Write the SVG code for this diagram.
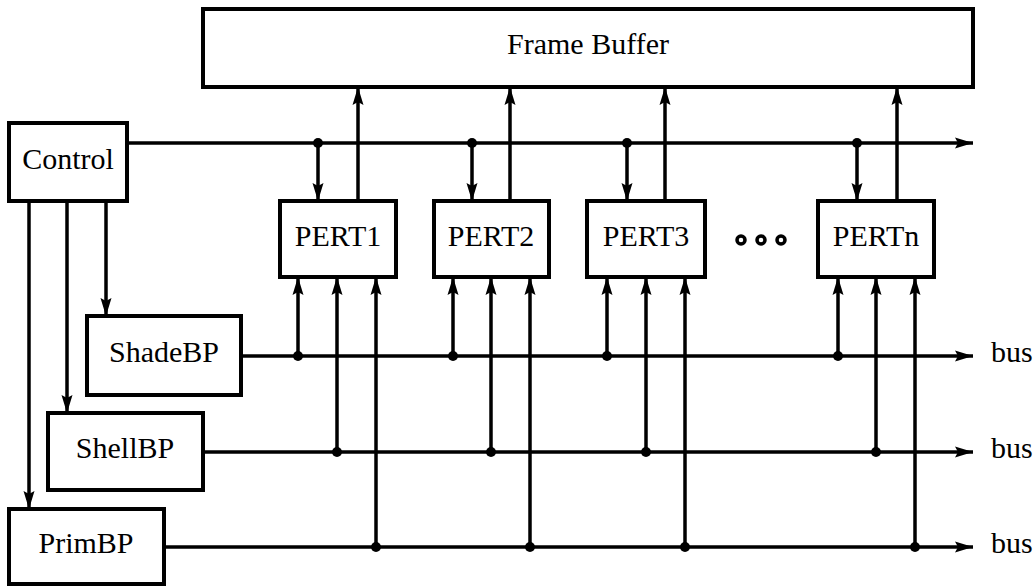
<svg xmlns="http://www.w3.org/2000/svg" width="1036" height="586" viewBox="0 0 1036 586">
<style>
.box{fill:#fff;stroke:#000;stroke-width:4}
.t{font-family:"Liberation Serif","DejaVu Serif",serif;font-size:30px;fill:#000;text-anchor:middle}
.a{fill:none;stroke:#000;stroke-width:3.5;marker-end:url(#ah)}
.d{fill:#000}
.e{fill:#fff;stroke:#000;stroke-width:3.5}
</style>
<defs>
<marker id="ah" markerUnits="userSpaceOnUse" markerWidth="20" markerHeight="14" refX="18" refY="7" orient="auto">
<path d="M0,1.5 L18,7 L0,12.5 L3,7 z" fill="#000"/>
</marker>
</defs>
<g id="connectors">
<path class="a" d="M127,143 H973"/>
<path class="a" d="M318,143 V201"/>
<path class="a" d="M472,143 V201"/>
<path class="a" d="M627,143 V201"/>
<path class="a" d="M857,143 V201"/>
<circle class="d" cx="318" cy="143" r="5"/>
<circle class="d" cx="472" cy="143" r="5"/>
<circle class="d" cx="627" cy="143" r="5"/>
<circle class="d" cx="857" cy="143" r="5"/>
<path class="a" d="M358,201 V87"/>
<path class="a" d="M510,201 V87"/>
<path class="a" d="M665,201 V87"/>
<path class="a" d="M897,201 V87"/>
<path class="a" d="M106,201 V316"/>
<path class="a" d="M67,201 V413"/>
<path class="a" d="M29,201 V509"/>
<path class="a" d="M241,356 H973"/>
<path class="a" d="M203,452 H973"/>
<path class="a" d="M164,547 H973"/>
<path class="a" d="M298,356 V277"/>
<path class="a" d="M453,356 V277"/>
<path class="a" d="M607,356 V277"/>
<path class="a" d="M838,356 V277"/>
<circle class="d" cx="298" cy="356" r="5"/>
<circle class="d" cx="453" cy="356" r="5"/>
<circle class="d" cx="607" cy="356" r="5"/>
<circle class="d" cx="838" cy="356" r="5"/>
<path class="a" d="M337,452 V277"/>
<path class="a" d="M491,452 V277"/>
<path class="a" d="M646,452 V277"/>
<path class="a" d="M876,452 V277"/>
<circle class="d" cx="337" cy="452" r="5"/>
<circle class="d" cx="491" cy="452" r="5"/>
<circle class="d" cx="646" cy="452" r="5"/>
<circle class="d" cx="876" cy="452" r="5"/>
<path class="a" d="M376,547 V277"/>
<path class="a" d="M530,547 V277"/>
<path class="a" d="M685,547 V277"/>
<path class="a" d="M915,547 V277"/>
<circle class="d" cx="376" cy="547" r="5"/>
<circle class="d" cx="530" cy="547" r="5"/>
<circle class="d" cx="685" cy="547" r="5"/>
<circle class="d" cx="915" cy="547" r="5"/>
</g>
<g id="framebuffer"><rect class="box" x="203" y="9" width="770" height="78"/><text class="t" x="588" y="54">Frame Buffer</text></g>
<g id="control"><rect class="box" x="9" y="123" width="118" height="78"/><text class="t" x="68" y="169">Control</text></g>
<g id="pert1"><rect class="box" x="280" y="201" width="116" height="76"/><text class="t" x="338" y="246">PERT1</text></g>
<g id="pert2"><rect class="box" x="434" y="201" width="115" height="76"/><text class="t" x="491" y="246">PERT2</text></g>
<g id="pert3"><rect class="box" x="587" y="201" width="118" height="76"/><text class="t" x="646" y="246">PERT3</text></g>
<g id="ellipsis">
<circle class="e" cx="741" cy="240" r="4"/>
<circle class="e" cx="761" cy="240" r="4"/>
<circle class="e" cx="781" cy="240" r="4"/>
</g>
<g id="pertn"><rect class="box" x="818" y="201" width="116" height="76"/><text class="t" x="876" y="246">PERTn</text></g>
<g id="shadebp"><rect class="box" x="87" y="316" width="154" height="79"/><text class="t" x="164" y="362">ShadeBP</text></g>
<g id="shellbp"><rect class="box" x="48" y="413" width="155" height="77"/><text class="t" x="125" y="458">ShellBP</text></g>
<g id="primbp"><rect class="box" x="9" y="509" width="155" height="75"/><text class="t" x="86" y="553">PrimBP</text></g>
<g id="labels">
<text class="t" x="991" y="362" style="text-anchor:start">bus</text>
<text class="t" x="991" y="458" style="text-anchor:start">bus</text>
<text class="t" x="991" y="553" style="text-anchor:start">bus</text>
</g>
</svg>
